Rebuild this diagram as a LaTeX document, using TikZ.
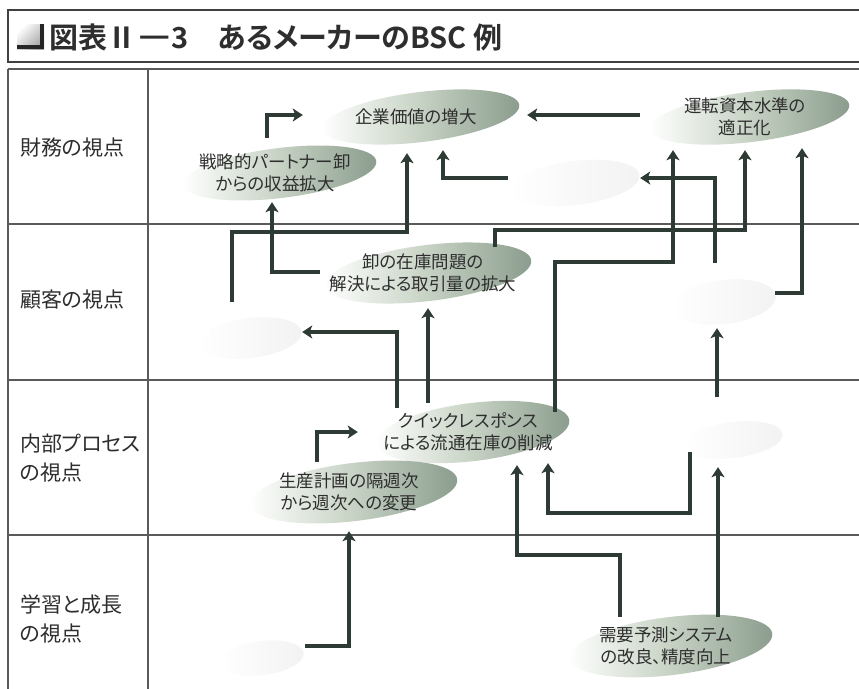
\documentclass[tikz,border=0pt]{standalone}
\usepackage{fontspec}
\usepackage{graphicx}
\newfontfamily\jp{Noto Sans CJK JP}[BoldFont={Noto Sans CJK JP Bold},RawFeature=+palt]
\usetikzlibrary{calc,arrows.meta,shapes.geometric}
\definecolor{ink}{HTML}{2E2E2E}
\definecolor{arrc}{HTML}{2E3B34}
\definecolor{leafm}{HTML}{C6D2C3}
\definecolor{leafr}{HTML}{8A9C8D}
\definecolor{rulec}{HTML}{5A5A5A}
\newcommand\leafat[6]{%
  \begin{scope}[shift={(#2,#3)},rotate=7]
    \shade[leaf] (0,0) ellipse [x radius=#4, y radius=#5];
  \end{scope}
  \node[anch,minimum width={2*#4},minimum height={2*#5}] (#1) at (#2,#3) {};
  \node[lbl] (#1-t) at ($(#2,#3)+(-5,0)$) {#6};
}
\newcommand\ghostat[5]{%
  \begin{scope}[shift={(#2,#3)},rotate=7]
    \shade[ghost] (0,0) ellipse [x radius=#4, y radius=#5];
  \end{scope}
  \node[anch,minimum width={2*#4},minimum height={2*#5}] (#1) at (#2,#3) {};
}
\begin{document}
\begin{tikzpicture}[x=1pt,y=-1pt,
  arr/.style={draw=arrc,line width=3.6pt,line join=miter,-{Stealth[length=10pt,width=13pt,inset=2.5pt]}},
  leaf/.style={left color=white,right color=leafr,middle color=leafm},
  ghost/.style={left color=white,right color=black!5},
  anch/.style={ellipse,inner sep=0pt},
  lbl/.style={inner sep=0pt,align=center,font=\jp\fontsize{17.5}{22}\selectfont,text=ink},
  rowlbl/.style={anchor=west,align=left,font=\jp\fontsize{21}{29}\selectfont,text=ink,inner sep=0pt},
  gridline/.style={draw=rulec,line width=1.3pt}]
\useasboundingbox (0,0) rectangle (859,688);
\fill[white] (0,0) rectangle (859,688);

% title
\draw[line width=1.6pt,draw=black!75] (8,10) rectangle (875,62);
\shade[top color=white,bottom color=black!35,shading angle=45] (17,24) rectangle (44,49);
\draw[draw=black!85,line width=3.5pt] (42,24) -- (42,47) -- (17,47);
\node[anchor=west,inner sep=0pt,font=\jp\bfseries\fontsize{29}{32}\selectfont,text=ink] (title) at (49,37) {図表Ⅱ\hspace{2pt}\scalebox{1.9}[1]{−}\hspace{1pt}3　あるメーカーのBSC 例};

% grid
\draw[gridline] (8,69) -- (875,69);
\draw[gridline] (8,69) -- (8,700);
\draw[gridline] (148,69) -- (148,700);
\draw[gridline] (8,224) -- (875,224);
\draw[gridline] (8,380) -- (875,380);
\draw[gridline] (8,535) -- (875,535);

% row labels
\node[rowlbl] (r1) at (20,148) {財務の視点};
\node[rowlbl] (r2) at (20,300) {顧客の視点};
\node[rowlbl] (r3) at (20,458) {内部プロセス\\の視点};
\node[rowlbl] (r4) at (20,619) {学習と成長\\の視点};

% ellipses
\leafat{kv}{421}{117}{99}{25}{企業価値の増大}
\leafat{sp}{280}{173}{97}{25}{戦略的パートナー卸\\からの収益拡大}
\leafat{wc}{750}{117}{100}{25}{運転資本水準の\\適正化}
\ghostat{fh}{575}{183}{65}{22}
\leafat{wi}{428}{273}{104}{28}{卸の在庫問題の\\解決による取引量の拡大}
\ghostat{cl}{250}{338}{52}{20}
\ghostat{cr}{724}{302}{52}{22}
\leafat{qr}{473}{432}{97}{29}{クイックレスポンス\\による流通在庫の削減}
\leafat{pp}{354}{492}{104}{29}{生産計画の隔週次\\から週次への変更}
\ghostat{pr}{733}{440}{50}{18}
\leafat{dm}{671}{646}{102}{29}{需要予測システム\\の改良、精度向上}
\ghostat{ll}{262}{658}{42}{17}

% connectors
\draw[arr] ($(sp.north)+(-13,-10)$) |- ($(kv.west)+(-19,-2)$);
\draw[arr] ($(wc.west)+(-10,-2)$) -- ($(kv.east)+(7,-2)$);
\draw[arr] ($(fh.west)+(-2,-5)$) -| ($(kv.south)+(22,8)$);
\draw[arr] ($(cl.north)+(-18,-16)$) |- ($(kv.south)+(-14,90)$) -- ($(kv.south)+(-14,11)$);
\draw[arr] ($(wi.west)+(-4,-1)$) -| ($(sp.south)+(-8,4)$);
\draw[arr] ($(wi.north)+(67,2)$) |- ($(wc.south)+(-5,88)$) -- ($(wc.south)+(-5,8)$);
\draw[arr] ($(cr.north)+(-9,-17)$) |- ($(fh.east)+(0,-5)$);
\draw[arr] ($(cr.east)+(-1,-9)$) -| ($(wc.south)+(52,6)$);
\draw[arr] ($(qr.north)+(-76,5)$) |- ($(cl.east)+(0,-6)$);
\draw[arr] ($(qr.north)+(-45,0)$) -- ($(wi.south)+(0,7)$);
\draw[arr] ($(qr.north)+(82,9)$) |- ($(wc.south)+(-77,120)$) -- ($(wc.south)+(-77,8)$);
\draw[arr] ($(pr.north)+(-16,-25)$) -- ($(cr.south)+(-7,4)$);
\draw[arr] ($(pp.north)+(-37,-1)$) |- ($(qr.west)+(-18,0)$);
\draw[arr] ($(ll.east)+(1,-12)$) -| ($(pp.south)+(-5,10)$);
\draw[arr] ($(dm.north)+(-51,0)$) |- ($(qr.south)+(44,94)$) -- ($(qr.south)+(44,4)$);
\draw[arr] ($(pr.west)+(7,12)$) |- ($(qr.south)+(75,52)$) -- ($(qr.south)+(75,2)$);
\draw[arr] ($(dm.north)+(47,0)$) -- ($(pr.south)+(-15,9)$);
\end{tikzpicture}
\end{document}
